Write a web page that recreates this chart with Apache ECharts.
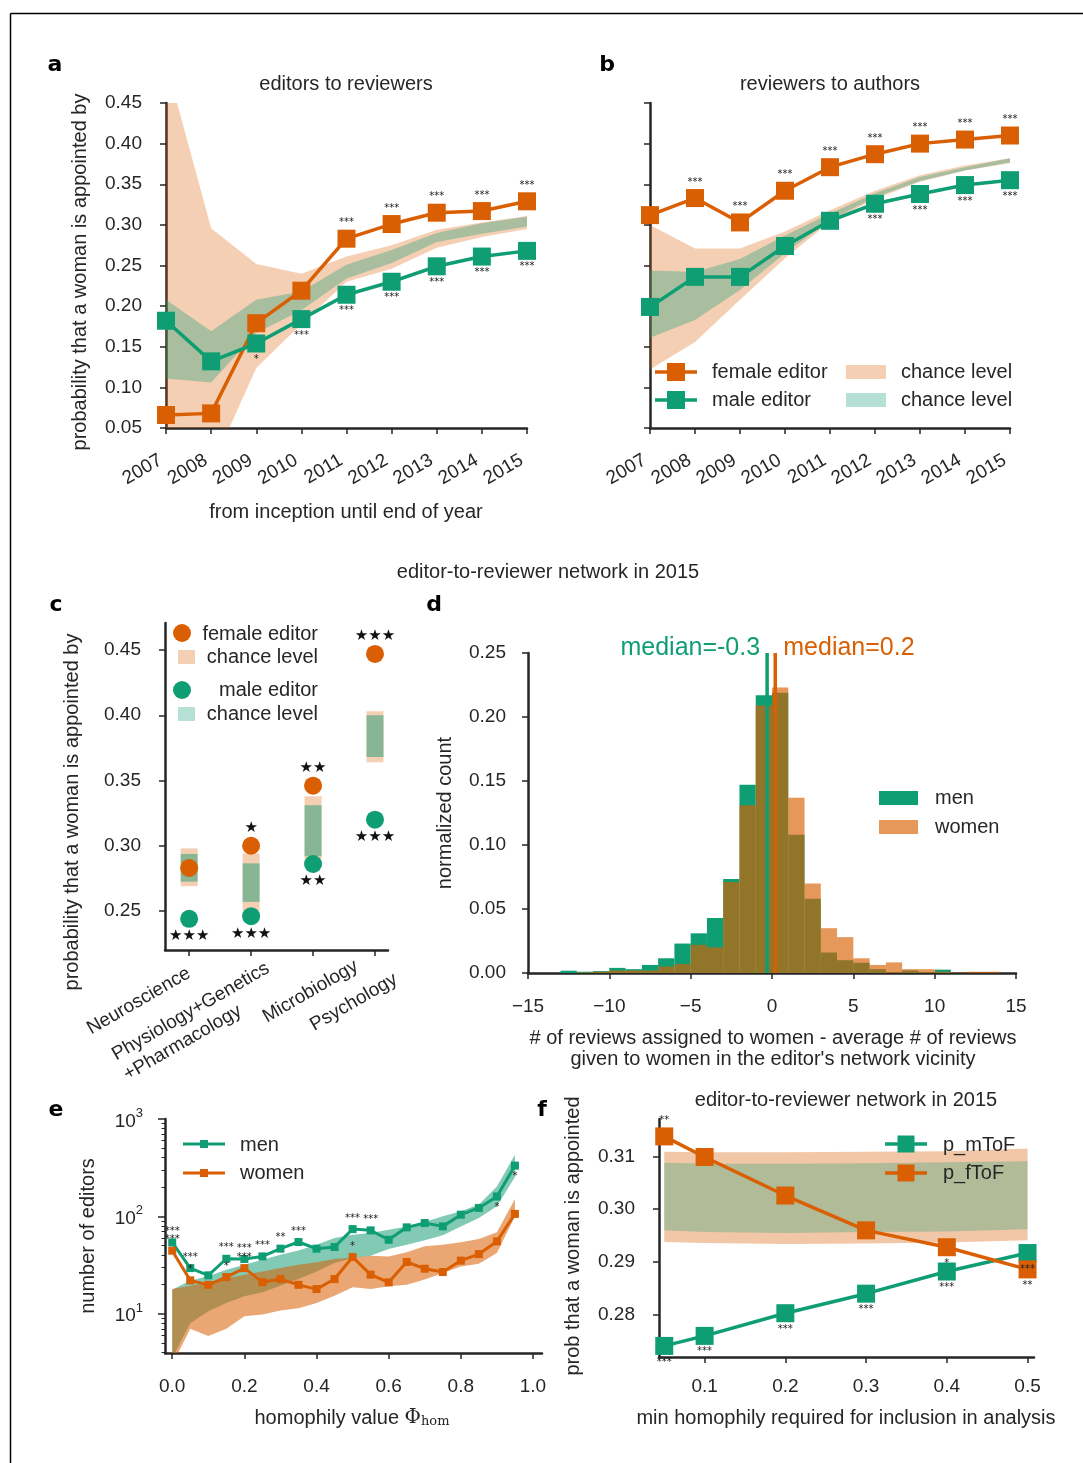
<!DOCTYPE html>
<html><head><meta charset="utf-8">
<script src="https://cdn.jsdelivr.net/npm/echarts@6/dist/echarts.min.js"></script>
<style>html,body{margin:0;padding:0;background:#fff}#c{width:1083px;height:1463px}</style>
</head><body><div id="c"></div>
<script>
// ---------------- DATA ----------------
// panel a: editors to reviewers
const years = [2007, 2008, 2009, 2010, 2011, 2012, 2013, 2014, 2015];
const aFemale = [0.066, 0.068, 0.179, 0.219, 0.283, 0.301, 0.315, 0.317, 0.329];
const aMale = [0.182, 0.132, 0.154, 0.184, 0.214, 0.230, 0.249, 0.261, 0.268];
const aFemChanceLo = [0.0, 0.0, 0.124, 0.178, 0.230, 0.246, 0.272, 0.285, 0.295];
const aFemChanceHi = [0.50, 0.296, 0.252, 0.240, 0.261, 0.275, 0.294, 0.303, 0.311];
const aMaleChanceLo = [0.111, 0.106, 0.167, 0.195, 0.234, 0.253, 0.279, 0.289, 0.298];
const aMaleChanceHi = [0.208, 0.169, 0.208, 0.218, 0.251, 0.269, 0.290, 0.302, 0.310];
const aFemSig = ['', '', '', '', '***', '***', '***', '***', '***'];
const aMaleSig = ['', '', '*', '***', '***', '***', '***', '***', '***'];
// panel b: reviewers to authors
const bFemale = [0.312, 0.333, 0.303, 0.342, 0.371, 0.387, 0.400, 0.405, 0.410];
const bMale = [0.199, 0.236, 0.236, 0.274, 0.305, 0.326, 0.338, 0.349, 0.355];
const bFemChanceLo = [0.122, 0.156, 0.208, 0.259, 0.304, 0.332, 0.353, 0.367, 0.376];
const bFemChanceHi = [0.300, 0.271, 0.271, 0.292, 0.318, 0.342, 0.361, 0.373, 0.382];
const bMaleChanceLo = [0.161, 0.183, 0.220, 0.265, 0.306, 0.334, 0.354, 0.367, 0.377];
const bMaleChanceHi = [0.244, 0.242, 0.258, 0.287, 0.314, 0.339, 0.359, 0.371, 0.382];
const bFemSig = ['', '***', '***', '***', '***', '***', '***', '***', '***'];
const bMaleSig = ['', '', '', '', '', '***', '***', '***', '***'];
// panel c: by field
const cCategories = ['Neuroscience', 'Physiology+Genetics\n+Pharmacology', 'Microbiology', 'Psychology'];
const cFemale = [0.283, 0.300, 0.346, 0.447];
const cMale = [0.244, 0.246, 0.286, 0.320];
const cFemChanceLo = [0.269, 0.250, 0.289, 0.364];
const cFemChanceHi = [0.298, 0.294, 0.338, 0.403];
const cMaleChanceLo = [0.2725, 0.257, 0.292, 0.368];
const cMaleChanceHi = [0.2937, 0.2865, 0.331, 0.400];
const cFemSig = ['', '★', '★★', '★★★'];
const cMaleSig = ['★★★', '★★★', '★★', '★★★'];
const cXTicks = [0, 1, 2, 3];
const cYTicks = [0.25, 0.30, 0.35, 0.40, 0.45];
// panel d: histogram (bins of width 1 starting at binStart)
const dBinStart = [-13, -12, -11, -10, -9, -8, -7, -6, -5, -4, -3, -2, -1, 0, 1, 2, 3, 4, 5, 6, 7, 8, 9, 10, 11, 12, 13];
const dMen = [0.0018, 0.001, 0.0015, 0.004, 0.003, 0.0063, 0.0115, 0.023, 0.031, 0.043, 0.0735, 0.147, 0.217, 0.219, 0.108, 0.058, 0.016, 0.010, 0.008, 0.003, 0.0005, 0.002, 0.0005, 0.0026, 0, 0, 0];
const dWomen = [0, 0.0005, 0.001, 0.002, 0.002, 0.002, 0.005, 0.007, 0.022, 0.020, 0.071, 0.131, 0.209, 0.223, 0.137, 0.070, 0.035, 0.028, 0.0115, 0.0063, 0.0083, 0.003, 0.003, 0.001, 0.0003, 0.001, 0.001];
const dMedians = [-0.3, 0.2];
const dMedianLabels = ['median=-0.3', 'median=0.2'];
// panel e: homophily
const eX = [0.00, 0.05, 0.10, 0.15, 0.20, 0.25, 0.30, 0.35, 0.40, 0.45, 0.50, 0.55, 0.60, 0.65, 0.70, 0.75, 0.80, 0.85, 0.90, 0.95];
const eMen = [54, 29.4, 24.8, 36.7, 36.5, 38.8, 46.6, 54.5, 46.6, 48.4, 74, 71.8, 57.5, 77.1, 85.4, 78.9, 104, 122, 160, 332];
const eWomen = [44.4, 22.0, 19.8, 23.8, 29.4, 21.1, 22.7, 19.8, 17.9, 22.7, 38.2, 25.2, 21.0, 34.0, 29.0, 26.8, 35.1, 41.0, 55.3, 106];
const eMenChanceLo = [3.5, 8.0, 10.6, 12.9, 15.1, 16.6, 19.4, 22.7, 27.2, 33.2, 37.3, 39.4, 46.2, 51.2, 56.7, 63.8, 78.9, 96, 127, 254];
const eMenChanceHi = [17.6, 22.0, 24.2, 28.3, 31.9, 35.9, 40.4, 44.7, 51.2, 59.9, 64.8, 67.4, 72.9, 78.9, 87.5, 100, 113, 132, 203, 430];
const eWomenChanceLo = [3.0, 7.0, 5.9, 7.0, 9.4, 9.8, 10.8, 11.4, 12.9, 15.3, 18.7, 17.9, 19.1, 19.8, 22.4, 26.2, 30.6, 32.6, 42.0, 100];
const eWomenChanceHi = [17.9, 19.4, 21.0, 23.2, 25.2, 27.2, 29.4, 31.9, 33.7, 36.5, 37.8, 39.4, 38.8, 42.7, 49.2, 51.2, 54.1, 58.5, 68.5, 151];
const eMenSig = ['***', '***', '', '***', '***', '***', '**', '***', '', '', '***', '***', '', '', '', '', '', '', '*', '*'];
const eWomenSig = ['***', '*', '', '*', '***', '', '', '', '', '', '*', '', '', '', '', '', '', '', '', ''];
const eXTicks = [0.0, 0.2, 0.4, 0.6, 0.8, 1.0];
const eYMajor = [10, 100, 1000];
const eYMinor = [4, 5, 6, 7, 8, 9, 20, 30, 40, 50, 60, 70, 80, 90, 200, 300, 400, 500, 600, 700, 800, 900];
// panel f: min homophily
const fX = [0.05, 0.1, 0.2, 0.3, 0.4, 0.5];
const fMToF = [0.2741, 0.2760, 0.2803, 0.2840, 0.2882, 0.2917];
const fFToF = [0.3138, 0.3099, 0.3026, 0.2960, 0.2928, 0.2886];
const fFChanceLo = [0.2938, 0.2936, 0.2934, 0.2935, 0.2937, 0.2941];
const fFChanceHi = [0.3109, 0.3108, 0.3108, 0.3109, 0.3110, 0.3115];
const fMChanceLo = [0.2960, 0.2957, 0.2955, 0.2957, 0.2958, 0.2962];
const fMChanceHi = [0.3088, 0.3086, 0.3086, 0.3087, 0.3089, 0.3091];
const fMSig = ['***', '***', '***', '***', '***', '***'];
const fFSig = ['**', '', '', '', '*', '**'];
const fXTicks = [0.1, 0.2, 0.3, 0.4, 0.5];
const fYTicks = [0.28, 0.29, 0.30, 0.31];

// ---------------- STYLE ----------------
const ORANGE = '#d95f02', GREEN = '#0f9e74', AX = '#262626', TXT = '#262626';
const FONT = "'Liberation Sans', Arial, sans-serif";
const STARF = "'DejaVu Sans', sans-serif";

function axis(gi, o) {
  const a = {
    type: o.type || 'value', gridIndex: gi, min: o.min, max: o.max,
    axisLine: { show: o.line !== false, onZero: false, lineStyle: { color: AX, width: 2.5 } },
    axisTick: Object.assign({ show: true, length: 6, lineStyle: { color: AX, width: 1.5 } }, o.tick || {}),
    axisLabel: Object.assign({ show: true, color: TXT, fontSize: 19, fontFamily: FONT, margin: 22,
      hideOverlap: false, showMinLabel: true, showMaxLabel: true }, o.label || {}),
    splitLine: { show: false }, minorTick: { show: false }, minorSplitLine: { show: false }
  };
  if (o.interval !== undefined) a.interval = o.interval;
  if (o.logBase !== undefined) a.logBase = o.logBase;
  if (o.position !== undefined) { a.position = o.position; a.offset = 0; }
  return a;
}

// chance band drawn as one clipped polygon through the axes' scales
function band(xs, lo, hi, fill, gi, z) {
  return {
    type: 'custom', xAxisIndex: gi, yAxisIndex: gi, z: z || 1, silent: true,
    data: xs.map((x, i) => [x, lo[i], hi[i]]), encode: { x: 0, y: [1, 2] },
    renderItem: (params, api) => {
      if (params.dataIndex !== 0) return null;
      const pts = [];
      for (let i = 0; i < xs.length; i++) pts.push(api.coord([xs[i], hi[i]]));
      for (let i = xs.length - 1; i >= 0; i--) pts.push(api.coord([xs[i], lo[i]]));
      const cs = params.coordSys;
      return { type: 'polygon', shape: { points: pts }, style: { fill: fill },
        clipPath: { type: 'rect', shape: { x: cs.x, y: cs.y, width: cs.width, height: cs.height } } };
    }
  };
}

function line(xs, ys, sig, hi, color, gi, sym, lw, sf) {
  return {
    type: 'line', xAxisIndex: gi, yAxisIndex: gi, z: 5, clip: false, silent: true,
    data: xs.map((x, i) => ({ value: [x, ys[i]], label: { position: ys[i] > hi[i] ? 'top' : 'bottom' } })),
    symbol: 'rect', symbolSize: sym, showAllSymbol: true,
    lineStyle: { color: color, width: lw }, itemStyle: { color: color },
    label: { show: true, distance: 2, fontFamily: STARF, fontSize: sf, color: '#222',
      formatter: p => sig[p.dataIndex] },
    emphasis: { disabled: true }
  };
}

function chanceRects(lo, hi, fill, z) {
  return {
    type: 'custom', xAxisIndex: 2, yAxisIndex: 2, z: z, silent: true,
    data: lo.map((l, i) => [i, l, hi[i]]), encode: { x: 0, y: [1, 2] },
    renderItem: (params, api) => {
      const t = api.coord([api.value(0), api.value(2)]);
      const b = api.coord([api.value(0), api.value(1)]);
      return { type: 'rect', shape: { x: t[0] - 8.5, y: t[1], width: 17, height: b[1] - t[1] }, style: { fill: fill } };
    }
  };
}

function hist(vals, fill, z) {
  return {
    type: 'custom', xAxisIndex: 3, yAxisIndex: 3, z: z, silent: true,
    data: dBinStart.map((s, i) => [s, s + 1, vals[i]]), encode: { x: [0, 1], y: 2 },
    renderItem: (params, api) => {
      const p0 = api.coord([api.value(0), 0]);
      const p1 = api.coord([api.value(1), api.value(2)]);
      return { type: 'rect', shape: { x: p0[0], y: p1[1], width: p1[0] - p0[0], height: p0[1] - p1[1] }, style: { fill: fill } };
    }
  };
}

function T(text, x, y, o) {
  o = o || {};
  const st = { text: text, fill: o.color || TXT, fontSize: o.size || 20, fontFamily: o.family || FONT,
    fontWeight: o.weight || 'normal', textAlign: o.align || 'center', textVerticalAlign: o.va || 'middle',
    align: o.align || 'center', verticalAlign: o.va || 'middle', lineHeight: o.lh };
  if (o.rich) st.rich = o.rich;
  return { type: 'text', x: x, y: y, rotation: o.rot || 0, style: st, z: 100, silent: true };
}
function R(x, y, w, h, fill) { return { type: 'rect', shape: { x, y, width: w, height: h }, style: { fill }, z: 100, silent: true }; }
function L(x1, y1, x2, y2, stroke, lw) { return { type: 'line', shape: { x1, y1, x2, y2 }, style: { stroke, lineWidth: lw }, z: 100, silent: true }; }
function C(cx, cy, r, fill) { return { type: 'circle', shape: { cx, cy, r }, style: { fill }, z: 100, silent: true }; }
function legLine(x1, x2, y, color, sq, lw) {
  const m = (x1 + x2) / 2;
  return [L(x1, y, x2, y, color, lw), R(m - sq / 2, y - sq / 2, sq, sq, color)];
}

const fmt2 = v => v.toFixed(2);
const yearLabel = { rotate: 30, margin: 28, padding: [0, 6, 0, 0], formatter: v => String(v) };
const supDigit = { 1: '1', 2: '2', 3: '3' };
const O_BAND = 'rgba(217,95,2,0.3)', G_BAND = 'rgba(27,158,119,0.35)';
const catFmt = v => cCategories[Math.round(v)];
const catRichFmt = v => cCategories[Math.round(v)].split('\n').map(s => '{r|' + s + '}').join('\n');
// extra label-only axes for panel c (each carries one category label)
function cLabelAxis(idx, padRight, extra) {
  return axis(2, { min: -0.39, max: 3.21, line: false, position: 'bottom', tick: { show: false },
    label: Object.assign({ customValues: [cXTicks[idx]], rotate: 30, margin: 40, lineHeight: 21, align: 'center',
      verticalAlign: 'middle', padding: [0, padRight, 0, 0], formatter: catFmt }, extra || {}) });
}

const option = {
  animation: false,
  backgroundColor: '#fff',
  textStyle: { fontFamily: FONT },
  grid: [
    { left: 166, top: 103, width: 361, height: 325 },
    { left: 650, top: 103, width: 360, height: 325 },
    { left: 165, top: 623, width: 223, height: 327 },
    { left: 528, top: 653, width: 488, height: 320 },
    { left: 165, top: 1119, width: 377, height: 234 },
    { left: 659, top: 1119, width: 375, height: 238 }
  ],
  xAxis: [
    axis(0, { min: 2007, max: 2015, interval: 1, label: yearLabel }),
    axis(1, { min: 2007, max: 2015, interval: 1, label: yearLabel }),
    axis(2, { min: -0.39, max: 3.21, position: 'bottom', tick: { customValues: cXTicks },
      label: { customValues: [cXTicks[0]], rotate: 30, margin: 22, formatter: catFmt } }),
    axis(3, { min: -15, max: 15, interval: 5, label: { margin: 24, formatter: v => String(v).replace('-', '\u2212') } }),
    axis(4, { min: -0.02, max: 1.025, tick: { customValues: eXTicks },
      label: { customValues: eXTicks, margin: 24, formatter: v => v.toFixed(1) } }),
    axis(5, { min: 0.0435, max: 0.508, tick: { customValues: fXTicks },
      label: { customValues: fXTicks, margin: 20, formatter: v => v.toFixed(1) } }),
    cLabelAxis(1, 126, { formatter: catRichFmt,
      rich: { r: { align: 'left', fontSize: 19, fontFamily: FONT, color: TXT, lineHeight: 23 } } }),
    cLabelAxis(2, 6),
    cLabelAxis(3, 49)
  ],
  yAxis: [
    axis(0, { min: 0.05, max: 0.45, interval: 0.05, label: { margin: 24, formatter: fmt2 } }),
    axis(1, { min: 0.05, max: 0.45, interval: 0.05, label: { show: false } }),
    axis(2, { min: 0.2201, max: 0.4707, tick: { customValues: cYTicks },
      label: { customValues: cYTicks, margin: 24, formatter: fmt2 } }),
    axis(3, { min: 0, max: 0.25, interval: 0.05, label: { margin: 22, formatter: fmt2 } }),
    axis(4, { type: 'log', logBase: 10, min: 3.95, max: 1000, position: 'left', tick: { customValues: eYMajor, length: 7 },
      label: { customValues: eYMajor, margin: 22,
        formatter: v => '{b|10}{s|' + supDigit[Math.round(Math.log10(v))] + '}',
        rich: { b: { fontSize: 19, fontFamily: FONT, color: TXT, lineHeight: 24, verticalAlign: 'bottom' },
                s: { fontSize: 13, fontFamily: FONT, color: TXT, lineHeight: 14, verticalAlign: 'top' } } } }),
    axis(5, { min: 0.272, max: 0.3171, tick: { customValues: fYTicks },
      label: { customValues: fYTicks, margin: 24, formatter: fmt2 } }),
    axis(4, { type: 'log', logBase: 10, min: 3.95, max: 1000, line: false, position: 'left',
      tick: { customValues: eYMinor, length: 3.5, lineStyle: { color: AX, width: 1 } }, label: { show: false } })
  ],
  series: [
    // a
    band(years, aFemChanceLo, aFemChanceHi, O_BAND, 0, 1),
    band(years, aMaleChanceLo, aMaleChanceHi, G_BAND, 0, 2),
    line(years, aFemale, aFemSig, aFemChanceHi, ORANGE, 0, 18, 3.5, 10),
    line(years, aMale, aMaleSig, aMaleChanceHi, GREEN, 0, 18, 3.5, 10),
    // b
    band(years, bFemChanceLo, bFemChanceHi, O_BAND, 1, 1),
    band(years, bMaleChanceLo, bMaleChanceHi, G_BAND, 1, 2),
    line(years, bFemale, bFemSig, bFemChanceHi, ORANGE, 1, 18, 3.5, 10),
    line(years, bMale, bMaleSig, bMaleChanceHi, GREEN, 1, 18, 3.5, 10),
    // c
    chanceRects(cFemChanceLo, cFemChanceHi, 'rgba(217,95,2,0.3)', 2),
    chanceRects(cMaleChanceLo, cMaleChanceHi, 'rgba(27,158,119,0.5)', 3),
    { type: 'scatter', xAxisIndex: 2, yAxisIndex: 2, z: 5, silent: true, symbol: 'circle', symbolSize: 18,
      data: cFemale.map((v, i) => [i, v]), itemStyle: { color: ORANGE, opacity: 1 },
      label: { show: true, position: 'top', distance: 1, fontFamily: STARF, fontSize: 15, color: '#111', formatter: p => cFemSig[p.dataIndex] } },
    { type: 'scatter', xAxisIndex: 2, yAxisIndex: 2, z: 5, silent: true, symbol: 'circle', symbolSize: 18,
      data: cMale.map((v, i) => [i, v]), itemStyle: { color: GREEN, opacity: 1 },
      label: { show: true, position: 'bottom', distance: 1, fontFamily: STARF, fontSize: 15, color: '#111', formatter: p => cMaleSig[p.dataIndex] } },
    // d
    hist(dMen, GREEN, 2),
    hist(dWomen, 'rgba(217,95,2,0.65)', 3),
    { type: 'custom', xAxisIndex: 3, yAxisIndex: 3, z: 6, silent: true,
      data: dMedians.map((m, i) => [m, i]), encode: { x: 0 },
      renderItem: (params, api) => {
        const i = params.dataIndex, m = api.value(0);
        const b = api.coord([m, 0]), t = api.coord([m, 0.25]);
        const col = i === 0 ? GREEN : ORANGE;
        return { type: 'group', children: [
          { type: 'line', shape: { x1: b[0], y1: b[1], x2: t[0], y2: t[1] }, style: { stroke: col, lineWidth: 3.5 } },
          { type: 'text', x: t[0] + (i === 0 ? -7 : 8), y: t[1] - 5,
            style: { text: dMedianLabels[i], fill: col, fontSize: 25, fontFamily: FONT,
              textAlign: i === 0 ? 'right' : 'left', align: i === 0 ? 'right' : 'left', textVerticalAlign: 'middle', verticalAlign: 'middle' } }
        ] };
      } },
    // e
    band(eX, eMenChanceLo, eMenChanceHi, 'rgba(27,158,119,0.55)', 4, 1),
    band(eX, eWomenChanceLo, eWomenChanceHi, 'rgba(217,95,2,0.55)', 4, 2),
    line(eX, eWomen, eWomenSig, eWomenChanceHi, ORANGE, 4, 8, 3, 10),
    line(eX, eMen, eMenSig, eMenChanceHi, GREEN, 4, 8, 3, 10),
    // f
    band(fX, fFChanceLo, fFChanceHi, 'rgba(217,95,2,0.35)', 5, 1),
    band(fX, fMChanceLo, fMChanceHi, 'rgba(27,158,119,0.3)', 5, 2),
    line(fX, fMToF, fMSig, fMChanceHi, GREEN, 5, 18, 3.5, 10),
    line(fX, fFToF, fFSig, fFChanceHi, ORANGE, 5, 18, 3.5, 10)
  ],
  graphic: { elements: [
    // frame
    L(10.5, 13.5, 1083, 13.5, '#000', 1.5), L(10.5, 13.5, 10.5, 1463, '#000', 1.5),
    // panel letters
    T('a', 55, 65, { size: 22, weight: 'bold', family: "'DejaVu Sans', sans-serif", color: '#000' }),
    T('b', 607, 65, { size: 22, weight: 'bold', family: "'DejaVu Sans', sans-serif", color: '#000' }),
    T('c', 56, 605, { size: 22, weight: 'bold', family: "'DejaVu Sans', sans-serif", color: '#000' }),
    T('d', 434, 605, { size: 22, weight: 'bold', family: "'DejaVu Sans', sans-serif", color: '#000' }),
    T('e', 56, 1110, { size: 22, weight: 'bold', family: "'DejaVu Sans', sans-serif", color: '#000' }),
    T('f', 542, 1110, { size: 22, weight: 'bold', family: "'DejaVu Sans', sans-serif", color: '#000' }),
    // titles
    T('editors to reviewers', 346, 84),
    T('reviewers to authors', 830, 84),
    T('editor-to-reviewer network in 2015', 548, 572),
    T('editor-to-reviewer network in 2015', 846, 1100),
    // axis titles
    T('probability that a woman is appointed by', 80, 272, { rot: Math.PI / 2 }),
    T('from inception until end of year', 346, 512),
    T('probability that a woman is appointed by', 72, 812, { rot: Math.PI / 2 }),
    T('normalized count', 445, 813, { rot: Math.PI / 2 }),
    T("# of reviews assigned to women - average # of reviews\ngiven to women in the editor's network vicinity", 773, 1049, { lh: 21 }),
    T('number of editors', 88, 1236, { rot: Math.PI / 2 }),
    T('homophily value {phi|\u03A6}{sub|hom}', 352, 1418, { rich: {
      phi: { fontFamily: "'DejaVu Serif', serif", fontSize: 20, fill: TXT, color: TXT },
      sub: { fontFamily: "'DejaVu Serif', serif", fontSize: 13, fill: TXT, color: TXT, verticalAlign: 'bottom', lineHeight: 14, padding: [8, 0, 0, 0] } } }),
    T('prob that a woman is appointed', 573, 1236, { rot: Math.PI / 2 }),
    T('min homophily required for inclusion in analysis', 846, 1418),
    // legend b
    ...legLine(655, 697, 372, ORANGE, 18, 3.5), T('female editor', 712, 372, { align: 'left' }),
    ...legLine(655, 697, 400, GREEN, 18, 3.5), T('male editor', 712, 400, { align: 'left' }),
    R(846, 365, 40, 14, 'rgba(217,95,2,0.3)'), T('chance level', 901, 372, { align: 'left' }),
    R(846, 393, 40, 14, 'rgba(27,158,119,0.32)'), T('chance level', 901, 400, { align: 'left' }),
    // legend c
    C(182, 633, 9, ORANGE), T('female editor', 318, 634, { align: 'right' }),
    R(178, 650, 17, 14, 'rgba(217,95,2,0.3)'), T('chance level', 318, 657, { align: 'right' }),
    C(182, 690, 9, GREEN), T('male editor', 318, 690, { align: 'right' }),
    R(178, 707, 17, 14, 'rgba(27,158,119,0.32)'), T('chance level', 318, 714, { align: 'right' }),
    // legend d
    R(879, 791, 39, 14, GREEN), T('men', 935, 798, { align: 'left' }),
    R(879, 820, 39, 14, 'rgba(217,95,2,0.65)'), T('women', 935, 827, { align: 'left' }),
    // legend e
    ...legLine(183, 225, 1144, GREEN, 8, 3), T('men', 240, 1145, { align: 'left' }),
    ...legLine(183, 225, 1173, ORANGE, 8, 3), T('women', 240, 1173, { align: 'left' }),
    // legend f
    ...legLine(885, 927, 1144, GREEN, 17, 3.5), T('p_mToF', 943, 1145, { align: 'left' }),
    ...legLine(885, 927, 1173, ORANGE, 17, 3.5), T('p_fToF', 943, 1173, { align: 'left' })
  ] }
};

const chart = echarts.init(document.getElementById('c'), null, { renderer: 'canvas', width: 1083, height: 1463 });
chart.setOption(option);
</script>
</body></html>
